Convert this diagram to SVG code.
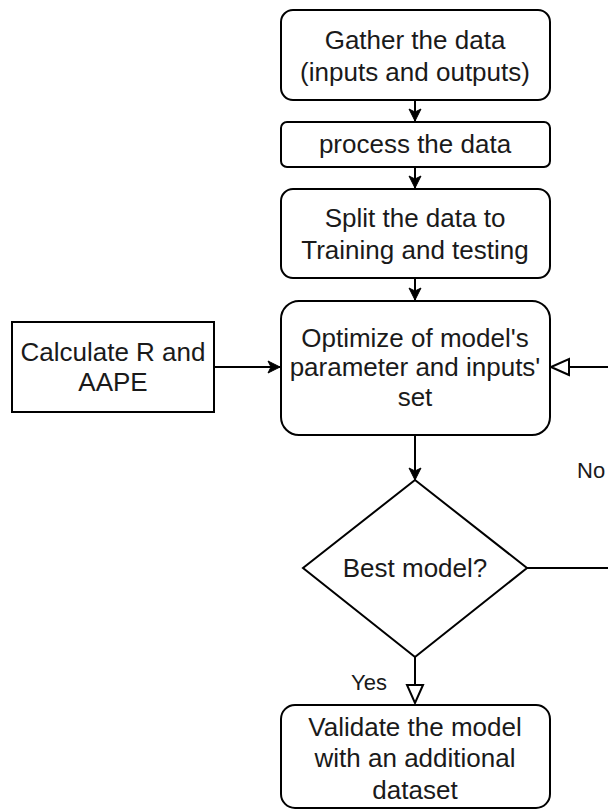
<svg xmlns="http://www.w3.org/2000/svg" width="608" height="812" viewBox="0 0 608 812">
<style>
.n{fill:#fff;stroke:#000;stroke-width:2}
.t{font-family:"Liberation Sans",Arial,sans-serif;font-size:26px;fill:#1a1a1a;text-anchor:middle}
.l{font-family:"Liberation Sans",Arial,sans-serif;font-size:22px;fill:#1a1a1a}
.c{fill:none;stroke:#000;stroke-width:2}
</style>
<defs>
<marker id="fa" markerWidth="14" markerHeight="14" viewBox="0 0 14 14" refX="13" refY="7" orient="auto" markerUnits="userSpaceOnUse">
<path d="M1,1 L13,7 L1,13 L4,7 Z" fill="#000" stroke="#000" stroke-width="1"/>
</marker>
<marker id="oa" markerWidth="22" markerHeight="22" viewBox="0 0 22 22" refX="20" refY="11" orient="auto" markerUnits="userSpaceOnUse">
<path d="M2,3 L20,11 L2,19 Z" fill="#fff" stroke="#000" stroke-width="2"/>
</marker>
</defs>
<g id="connectors">
<line class="c" x1="415" y1="100" x2="415" y2="121" marker-end="url(#fa)"/>
<line class="c" x1="415" y1="167" x2="415" y2="188" marker-end="url(#fa)"/>
<line class="c" x1="415" y1="278" x2="415" y2="300" marker-end="url(#fa)"/>
<line class="c" x1="214" y1="367" x2="280" y2="367" marker-end="url(#fa)"/>
<line class="c" x1="608" y1="367" x2="551" y2="367" marker-end="url(#oa)"/>
<line class="c" x1="415" y1="435" x2="415" y2="480" marker-end="url(#fa)"/>
<line class="c" x1="527" y1="568" x2="608" y2="568"/>
<line class="c" x1="415" y1="657" x2="415" y2="703" marker-end="url(#oa)"/>
<text class="l" x="577" y="478">No</text>
<text class="l" x="351" y="690">Yes</text>
</g>
<g id="gather">
<rect class="n" x="281" y="10" width="269" height="90" rx="12"/>
<text class="t" x="415" y="49">Gather the data</text>
<text class="t" x="415" y="81">(inputs and outputs)</text>
</g>
<g id="process">
<rect class="n" x="281" y="122" width="269" height="45" rx="6"/>
<text class="t" x="415" y="153">process the data</text>
</g>
<g id="split">
<rect class="n" x="281" y="189" width="269" height="89" rx="12"/>
<text class="t" x="415" y="227">Split the data to</text>
<text class="t" x="415" y="259">Training and testing</text>
</g>
<g id="calc">
<rect class="n" x="12" y="322" width="202" height="90"/>
<text class="t" x="113" y="361">Calculate R and</text>
<text class="t" x="113" y="391">AAPE</text>
</g>
<g id="optimize">
<rect class="n" x="281" y="301" width="269" height="134" rx="18"/>
<text class="t" x="415" y="347">Optimize of model's</text>
<text class="t" x="415" y="376">parameter and inputs'</text>
<text class="t" x="415" y="406">set</text>
</g>
<g id="best">
<polygon class="n" points="415,480 527,568 415,657 303,568"/>
<text class="t" x="415" y="577">Best model?</text>
</g>
<g id="validate">
<rect class="n" x="281" y="705" width="269" height="103" rx="14"/>
<text class="t" x="415" y="736">Validate the model</text>
<text class="t" x="415" y="767">with an additional</text>
<text class="t" x="415" y="799">dataset</text>
</g>
</svg>
